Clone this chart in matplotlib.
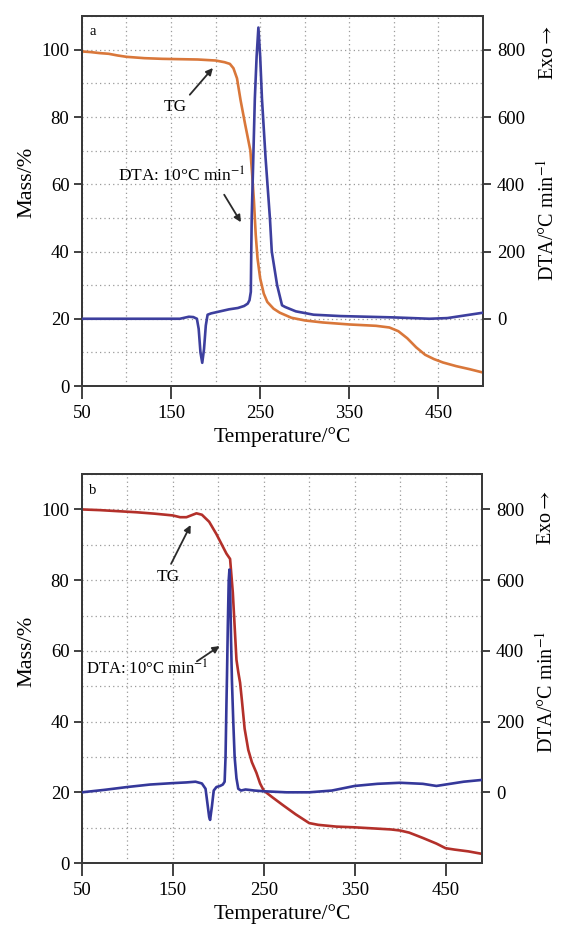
import numpy as np
import matplotlib.pyplot as plt
from matplotlib.ticker import MultipleLocator

plt.rcParams['font.family'] = ['Liberation Serif', 'DejaVu Serif']
plt.rcParams['mathtext.fontset'] = 'stix'

# ---- panel a ----
tg_a_t = [50, 60, 70, 80, 90, 100, 120, 140, 160, 180, 200, 210, 216, 220, 224, 228, 233, 236,
          239, 241, 243, 245, 247, 250, 254, 258, 265, 272, 285, 300, 320, 350, 380, 395, 405,
          415, 425, 435, 445, 455, 470, 485, 500]
tg_a_m = [99.5, 99.3, 99.0, 98.8, 98.3, 97.9, 97.5, 97.3, 97.2, 97.1, 96.8, 96.3, 95.8, 94.5, 91.5,
          85.0, 78.0, 74.0, 70.0, 63.0, 55.0, 45.0, 38.0, 32.0, 27.5, 25.0, 23.0, 21.8, 20.3, 19.5,
          18.9, 18.3, 17.9, 17.4, 16.3, 14.2, 11.5, 9.3, 8.0, 7.0, 5.9, 5.0, 4.0]

dta_a_t = [50, 100, 150, 160, 165, 170, 175, 179, 181, 183, 185, 187, 189, 191, 195, 205, 215, 225,
           232, 236, 238, 239.5, 240, 240.5, 242, 244, 246, 248, 250, 252, 256, 261, 263, 269,
           274.5, 278, 290, 310, 340, 370, 400, 420, 440, 460, 480, 500]
dta_a_v = [0, 0, 0, 0, 3, 6, 5, 0, -30, -100, -131, -90, -20, 12, 16, 22, 28, 32, 38, 45, 55, 80,
           200, 300, 450, 654, 780, 866, 780, 654, 480, 296, 200, 100, 40, 35, 22, 12, 8, 6, 4,
           2, 0, 2, 10, 18]

# ---- panel b ----
tg_b_t = [50, 70, 90, 110, 130, 150, 158, 165, 170, 176, 182, 190, 198, 204, 209, 213, 216, 218,
          220, 222, 224, 226, 229, 233, 237, 242, 246, 250, 260, 271, 285, 300, 310, 330, 350,
          370, 390, 400, 410, 425, 440, 450, 460, 475, 490]
tg_b_m = [100, 99.8, 99.5, 99.2, 98.8, 98.3, 97.8, 97.8, 98.3, 98.9, 98.5, 96.5, 93.0, 90.0, 87.5,
          86.0, 76.5, 67.0, 57.5, 54.0, 51.0, 46.0, 38.0, 32.0, 28.5, 25.5, 22.5, 20.5, 18.5, 16.4,
          13.8, 11.3, 10.8, 10.3, 10.1, 9.8, 9.5, 9.2, 8.6, 7.1, 5.5, 4.2, 3.8, 3.3, 2.6]

dta_b_t = [50, 75, 100, 125, 150, 165, 175, 182, 186, 188, 190, 191, 193, 195, 198, 202, 205, 207,
           208, 209, 209.6, 210.5, 211.5, 212.3, 213.2, 214, 215, 216.5, 218, 220, 222, 225, 230,
           240, 250, 275, 300, 325, 350, 375, 400, 425, 440, 450, 470, 490]
dta_b_v = [0, 7, 15, 22, 26, 28, 30, 25, 10, -30, -70, -78, -40, 5, 15, 18, 22, 30, 100, 250, 330,
           470, 600, 630, 560, 440, 318, 200, 100, 40, 10, 5, 8, 5, 3, 0, 0, 5, 18, 24, 27, 24,
           18, 22, 30, 35]

xticks = [50, 150, 250, 350, 450]
mass_ticks = [0, 20, 40, 60, 80, 100]
dta_ticks = [0, 200, 400, 600, 800]

panels = [
    dict(rect=[0.146, 0.5836, 0.715, 0.399], xmax=500, tg=(tg_a_t, tg_a_m), dta=(dta_a_t, dta_a_v),
         tgc='#d9773a', dtac='#3d3f9e', tag='a', lab_y=0.55, dta_y=0.45, exo_y=0.90,
         tg_txt=(154.5, 83), tg_tail=(169, 86), tg_head=(199, 95.2),
         dta_txt=(90, 62.4), dta_tail=(208, 57.6), dta_head=(230, 48), dta_fs=12.5),
    dict(rect=[0.146, 0.069, 0.713, 0.4196], xmax=490, tg=(tg_b_t, tg_b_m), dta=(dta_b_t, dta_b_v),
         tgc='#b3302a', dtac='#35389a', tag='b', lab_y=0.545, dta_y=0.44, exo_y=0.887,
         tg_txt=(144.5, 81), tg_tail=(146.7, 83.9), tg_head=(171, 96.3),
         dta_txt=(54, 54.7), dta_tail=(174, 56.6), dta_head=(204, 61.8), dta_fs=12),
]

fig = plt.figure(figsize=(5.61, 9.27), dpi=100)

for p in panels:
    ax = fig.add_axes(p['rect'])
    ax2 = ax.twinx()
    ax.set_xlim(50, p['xmax'])
    ax.set_ylim(0, 110)
    ax2.set_ylim(-200, 900)

    ax.set_xticks(xticks)
    ax.xaxis.set_minor_locator(MultipleLocator(50))
    ax.set_yticks(mass_ticks)
    ax.yaxis.set_minor_locator(MultipleLocator(10))
    ax2.set_yticks(dta_ticks)

    ax.grid(True, which='both', color='#9a9a9a', linestyle=(0, (1, 2.5)), linewidth=0.9)
    ax.tick_params(which='minor', length=0)
    ax.tick_params(axis='x', which='major', direction='out', length=9, width=1.3, pad=5,
                   labelsize=13.5, color='#333333')
    ax.tick_params(axis='y', which='major', direction='out', length=6, width=1.3, pad=3,
                   labelsize=13.5, color='#333333')
    ax2.tick_params(direction='out', length=6, width=1.3, pad=4, labelsize=13.5, color='#333333')
    for a in (ax, ax2):
        for s in a.spines.values():
            s.set_linewidth(1.4)
            s.set_color('#3a3a3a')

    ax.plot(p['tg'][0], p['tg'][1], color=p['tgc'], lw=1.9, zorder=3)
    ax2.plot(p['dta'][0], p['dta'][1], color=p['dtac'], lw=1.9, zorder=3)

    ax.set_xlabel('Temperature/°C', fontsize=15.5, labelpad=3)
    ax.text(-0.137, p['lab_y'], 'Mass/%', transform=ax.transAxes, rotation=90, fontsize=16,
            ha='center', va='center')
    ax.text(1.162, p['dta_y'], 'DTA/°C min$^{-1}$', transform=ax.transAxes, rotation=90,
            fontsize=14.5, ha='center', va='center')
    ax.text(1.162, p['exo_y'], 'Exo$\\rightarrow$', transform=ax.transAxes, rotation=90,
            fontsize=14.5, ha='center', va='center')

    ax.text(0.018, 0.975, p['tag'], transform=ax.transAxes, fontsize=10.5, va='top', ha='left')

    ax.annotate('', xy=p['tg_head'], xytext=p['tg_tail'],
                arrowprops=dict(arrowstyle='-|>', color='#2a2a2a', lw=1.3, mutation_scale=10))
    ax.text(*p['tg_txt'], 'TG', fontsize=12.5, ha='center', va='center')
    ax.annotate('', xy=p['dta_head'], xytext=p['dta_tail'],
                arrowprops=dict(arrowstyle='-|>', color='#2a2a2a', lw=1.3, mutation_scale=10))
    ax.text(*p['dta_txt'], 'DTA: 10°C min$^{-1}$', fontsize=p['dta_fs'], ha='left', va='center')

fig.savefig('out.png', dpi=100)
